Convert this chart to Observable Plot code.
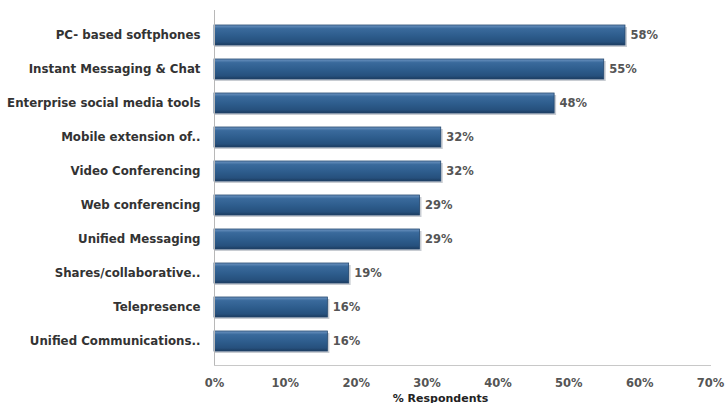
<!DOCTYPE html>
<html>
<head>
<meta charset="utf-8">
<script src="https://cdn.jsdelivr.net/npm/d3@7"></script>
<script src="https://cdn.jsdelivr.net/npm/@observablehq/plot@0.6"></script>
<style>
  html, body { margin: 0; padding: 0; background: #fff; }
  #chart { width: 725px; height: 403px; overflow: hidden; }
</style>
</head>
<body>
<div id="chart"></div>
<script>
const categories = [
  "PC- based softphones",
  "Instant Messaging & Chat",
  "Enterprise social media tools",
  "Mobile extension of..",
  "Video Conferencing",
  "Web conferencing",
  "Unified Messaging",
  "Shares/collaborative..",
  "Telepresence",
  "Unified Communications.."
];
const values = [58, 55, 48, 32, 32, 29, 29, 19, 16, 16];
const valueLabels = ["58%", "55%", "48%", "32%", "32%", "29%", "29%", "19%", "16%", "16%"];
const xTicks = [0, 10, 20, 30, 40, 50, 60, 70];
const xTickLabels = ["0%", "10%", "20%", "30%", "40%", "50%", "60%", "70%"];
const axisTitle = "% Respondents";

const data = categories.map((c, i) => ({category: c, value: values[i], label: valueLabels[i]}));

const font = "'DejaVu Sans', sans-serif";

const plot = Plot.plot({
  width: 725,
  height: 403,
  marginLeft: 214,
  marginRight: 15,
  marginTop: 10,
  marginBottom: 38,
  style: {fontFamily: font, fontSize: "11px", color: "#2a2a2a", background: "#fff"},
  x: {domain: [0, 70]},
  y: {domain: categories, padding: 0.42},
  marks: [
    Plot.axisY({tickSize: 0, tickPadding: 14, label: null, fontSize: 11.8, fontWeight: "bold", fill: "#333"}),
    Plot.axisX({ticks: xTicks, tickFormat: (d) => xTickLabels[xTicks.indexOf(d)], tickSize: 0, tickPadding: 13, label: null, fontSize: 11.5, fontWeight: "bold", fill: "#555"}),
    // shadow
    Plot.barX(data, {x: "value", y: "category", fill: "#c8ccd2", dx: 1, dy: 2, insetRight: -1}),
    Plot.barX(data, {x: "value", y: "category", fill: "url(#barGrad)", stroke: "#24486f", strokeWidth: 0.8}),
    Plot.text(data, {x: "value", y: "category", text: "label", textAnchor: "start", dx: 5, fontSize: 11.5, fontWeight: "bold", fill: "#555"}),
    Plot.frame({anchor: "left", stroke: "#b8b8b8"}),
    Plot.frame({anchor: "bottom", stroke: "#c8c8c8"}),
    Plot.text([axisTitle], {frameAnchor: "bottom", dx: -22, dy: 36, fontWeight: "bold", fontSize: 11, fill: "#222"})
  ]
});

const svg = d3.select(plot);
const defs = svg.insert("defs", ":first-child");
const grad = defs.append("linearGradient").attr("id", "barGrad").attr("x1", 0).attr("y1", 0).attr("x2", 0).attr("y2", 1);
grad.append("stop").attr("offset", "0%").attr("stop-color", "#6f96c2");
grad.append("stop").attr("offset", "18%").attr("stop-color", "#3a6a9c");
grad.append("stop").attr("offset", "55%").attr("stop-color", "#2d5c8c");
grad.append("stop").attr("offset", "85%").attr("stop-color", "#26507d");
grad.append("stop").attr("offset", "100%").attr("stop-color", "#1b3b5e");

document.getElementById("chart").appendChild(plot);
</script>
</body>
</html>
